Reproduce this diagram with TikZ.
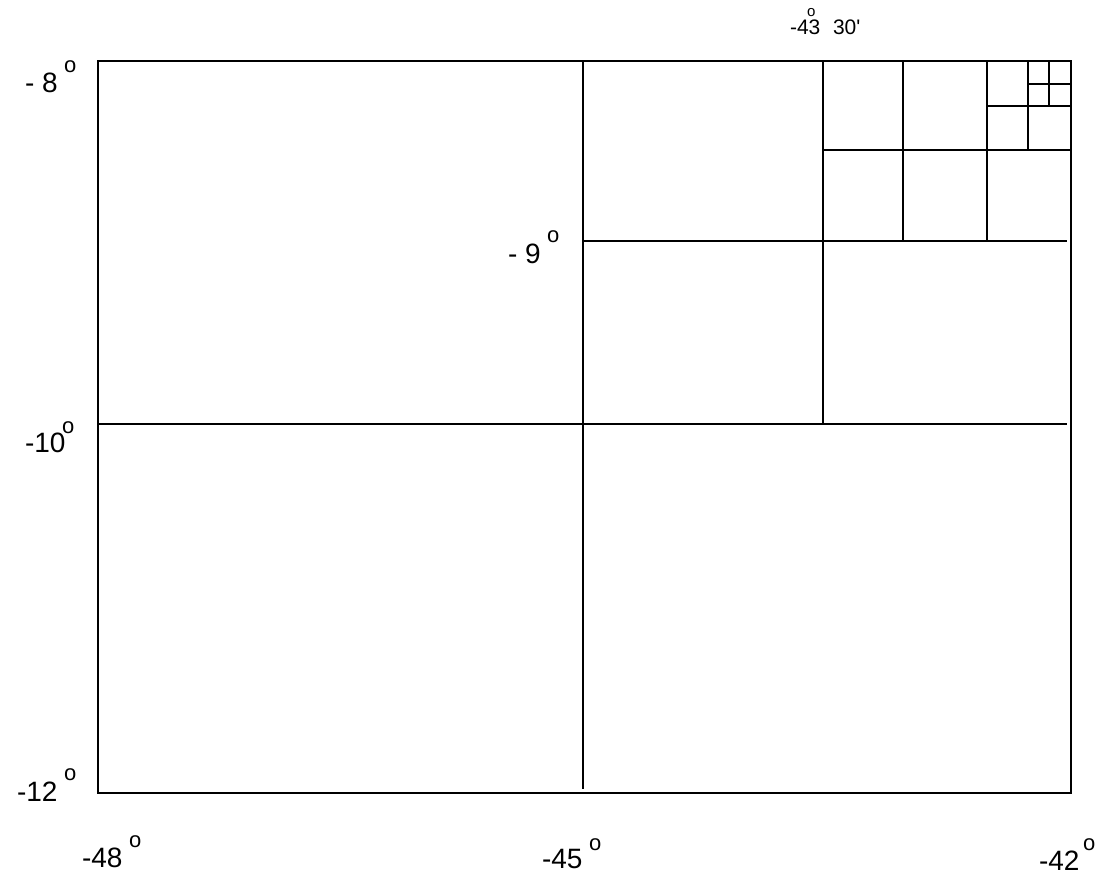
\documentclass[tikz,border=0pt]{standalone}
\usepackage{fontspec}
\setmainfont{Liberation Sans}
\begin{document}
\begin{tikzpicture}[x=1pt,y=-1pt,
  grid/.style={line width=2pt,line cap=rect},
  big/.style={inner sep=0pt,outer sep=0pt,anchor=base west,font=\fontsize{28}{32}\selectfont},
  deg/.style={inner sep=0pt,outer sep=0pt,anchor=base west,font=\fontsize{22}{26}\selectfont},
  small/.style={inner sep=0pt,outer sep=0pt,anchor=base west,font=\fontsize{21}{24}\selectfont},
  sdeg/.style={inner sep=0pt,outer sep=0pt,anchor=base west,font=\fontsize{15}{18}\selectfont}]
\useasboundingbox (0,0) rectangle (1099,874);
% frame and subdivisions
\draw[grid] (98,61) rectangle (1071,793);
\draw[grid] (583,61) -- (583,788);
\draw[grid] (98,424) -- (1066,424);
\draw[grid] (583,241) -- (1066,241);
\draw[grid] (823,61) -- (823,424);
\draw[grid] (823,150) -- (1069,150);
\draw[grid] (903,61) -- (903,241);
\draw[grid] (987,61) -- (987,241);
\draw[grid] (987,106) -- (1069,106);
\draw[grid] (1028,61) -- (1028,150);
\draw[grid] (1028,84) -- (1069,84);
\draw[grid] (1049,61) -- (1049,106);
% labels
\node[big] (l8) at (25,93) {- 8};
\node[deg] (l8o) at (64,73) {o};
\node[big] (l9) at (508,264) {- 9};
\node[deg] (l9o) at (547,243) {o};
\node[big] (l10) at (25,452) {-10};
\node[deg] (l10o) at (62,433) {o};
\node[big] (l12) at (17,801) {-12};
\node[deg] (l12o) at (64,780) {o};
\node[big] (l48) at (82,867) {-48};
\node[deg] (l48o) at (129,847) {o};
\node[big] (l45) at (542,868) {-45};
\node[deg] (l45o) at (589,850) {o};
\node[big] (l42) at (1039,870) {-42};
\node[deg] (l42o) at (1083,850) {o};
\node[small] (l43) at (790,35) {-43};
\node[sdeg] (l43o) at (807,17) {o};
\node[small] (l30) at (833,35) {30\textquotesingle};
\end{tikzpicture}
\end{document}
